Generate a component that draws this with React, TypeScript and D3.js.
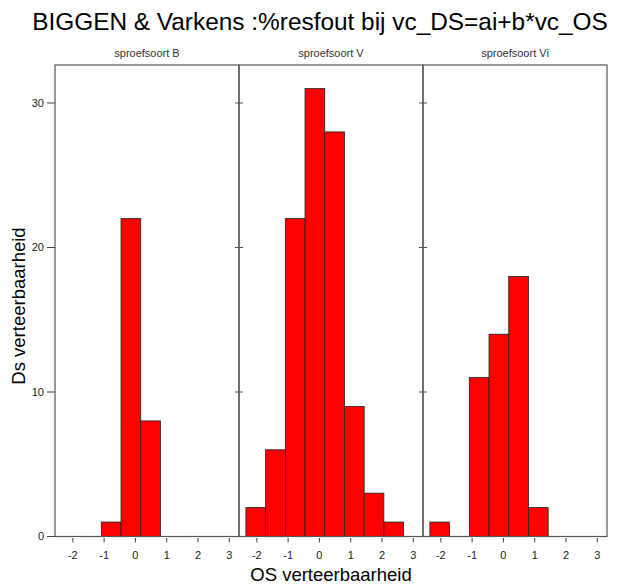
import React from 'react';
import * as d3 from 'd3';

// histogram data
const panels = ['sproefsoort B', 'sproefsoort V', 'sproefsoort Vi'];
const breaks = [-2.35, -1.72, -1.09, -0.46, 0.17, 0.8, 1.43, 2.06, 2.69];
const countsB = [0, 0, 1, 22, 8, 0, 0, 0];
const countsV = [2, 6, 22, 31, 28, 9, 3, 1];
const countsVi = [1, 0, 11, 14, 18, 2, 0, 0];
const xTicks = [-2, -1, 0, 1, 2, 3];
const yTicks = [0, 10, 20, 30];

const counts = [countsB, countsV, countsVi];

const W = 621;
const H = 584;
const left = 55;
const right = 607;
const top = 65;
const bottom = 536.5;

const App = () => {
  const panelX = d3.scaleBand<string>().domain(panels).range([left, right]).padding(0);
  const pw = panelX.bandwidth();
  const y = d3.scaleLinear().domain([0, 32.63]).range([bottom, top]);
  const font = 'Liberation Sans, Arial, sans-serif';
  const border = '#555';

  return (
    <svg width={W} height={H} style={{ display: 'block', position: 'absolute', left: 0, top: 0 }} fontFamily={font}>
      <rect width={W} height={H} fill="#fff" />
      <text x={320} y={30} textAnchor="middle" fontSize={24.4} fill="#000">
        BIGGEN &amp; Varkens :%resfout bij vc_DS=ai+b*vc_OS
      </text>

      {panels.map((p, i) => {
        const x0 = panelX(p)!;
        const x = d3.scaleLinear().domain([-2.57, 3.31]).range([x0, x0 + pw]);
        return (
          <g key={p}>
            <text x={x0 + pw / 2} y={57} textAnchor="middle" fontSize={11} fill="#333">
              {p}
            </text>
            {counts[i].map((c, j) =>
              c > 0 ? (
                <rect
                  key={j}
                  x={x(breaks[j])}
                  y={y(c)}
                  width={x(breaks[j + 1]) - x(breaks[j])}
                  height={y(0) - y(c)}
                  fill="#ff0000"
                  stroke="#222"
                  strokeWidth={0.8}
                />
              ) : null
            )}
            <rect x={x0} y={top} width={pw} height={bottom - top} fill="none" stroke={border} strokeWidth={1.2} />
            {xTicks.map((t) => (
              <g key={t}>
                <line x1={x(t)} x2={x(t)} y1={bottom + 1.5} y2={bottom + 6} stroke="#444" strokeWidth={1} />
                <text x={x(t)} y={559} textAnchor="middle" fontSize={11} fill="#222">
                  {t}
                </text>
              </g>
            ))}
            {i > 0 &&
              yTicks.slice(1).map((t) => (
                <line key={t} x1={x0 - 4} x2={x0 + 4} y1={y(t)} y2={y(t)} stroke="#555" strokeWidth={1} />
              ))}
          </g>
        );
      })}

      {yTicks.map((t) => (
        <g key={t}>
          <line x1={left - 8} x2={left} y1={y(t)} y2={y(t)} stroke="#444" strokeWidth={1} />
          <text x={44} y={y(t)} dy="0.35em" textAnchor="end" fontSize={11} fill="#222">
            {t}
          </text>
        </g>
      ))}

      <text
        transform={`translate(25,306) rotate(-90)`}
        textAnchor="middle"
        fontSize={18.5}
        fill="#000"
      >
        Ds verteerbaarheid
      </text>
      <text x={331} y={581} textAnchor="middle" fontSize={18.5} fill="#000">
        OS verteerbaarheid
      </text>
    </svg>
  );
};

export default App;
